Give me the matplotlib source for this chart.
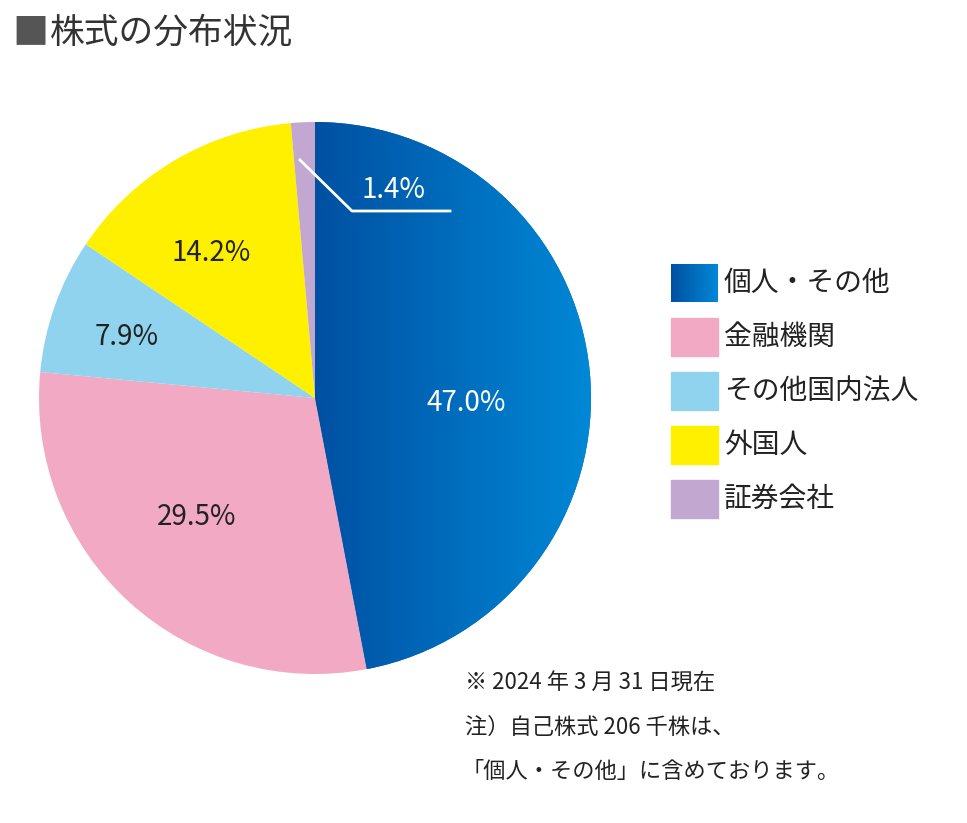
import matplotlib
matplotlib.use("Agg")
import matplotlib.pyplot as plt
import numpy as np
from matplotlib.colors import LinearSegmentedColormap

plt.rcParams["font.family"] = "Noto Sans CJK JP"

categories = ["個人・その他", "金融機関", "その他国内法人", "外国人", "証券会社"]
values = [47.0, 29.5, 7.9, 14.2, 1.4]
labels = ["47.0%", "29.5%", "7.9%", "14.2%", "1.4%"]
colors = ["#0066b8", "#f2a9c3", "#90d3ee", "#fff000", "#c2a7d1"]
title = "株式の分布状況"
notes = ["※ 2024 年 3 月 31 日現在", "注）自己株式 206 千株は、", "「個人・その他」に含めております。"]

W, H = 967, 823
fig = plt.figure(figsize=(W/100, H/100), dpi=100)
cx, cy, r = 315, 398, 276
ax = fig.add_axes([(cx-r)/W, (H-cy-r)/H, 2*r/W, 2*r/H])
wedges, _ = ax.pie(values, colors=colors, startangle=90, counterclock=False, radius=1,
                   wedgeprops=dict(linewidth=0))
ax.set_xlim(-1, 1); ax.set_ylim(-1, 1); ax.set_aspect("equal"); ax.axis("off")

# gradient on first wedge
cmap = LinearSegmentedColormap.from_list("b", ["#0050a2", "#0088d6"])
grad = np.linspace(0, 1, 256).reshape(1, -1)
im = ax.imshow(grad, cmap=cmap, extent=[0, 1, -1, 1], aspect="auto", zorder=3)
im.set_clip_path(wedges[0])
ax.set_xlim(-1, 1); ax.set_ylim(-1, 1)

# label positions in figure pixels
pos = [(466, 403), (197, 517), (127, 337), (211, 253), (393, 190)]
tcol = ["white", "#222222", "#222222", "#222222", "white"]
for lab, (x, y), c in zip(labels, pos, tcol):
    fig.text(x/W, 1-y/H, lab, color=c, fontsize=20, ha="center", va="center",
             fontfamily="Liberation Sans" if False else "Noto Sans CJK JP", zorder=5)
# leader line for 1.4%
lx = np.array([300, 352, 450]); ly = np.array([160, 211, 211])
fig.add_artist(plt.Line2D(lx/W, 1-ly/H, color="white", lw=2))

# title
fig.text(12/W, 1-33/H, "■", color="#555555", fontsize=26, va="center")
fig.text(50/W, 1-33/H, title, color="#333333", fontsize=25, va="center")

# legend
for i, (cat, col) in enumerate(zip(categories, colors)):
    y = 283 + i*54
    if i == 0:
        lax = fig.add_axes([671/W, 1-(y+19)/H, 47/W, 38/H])
        lax.imshow(grad, cmap=cmap, aspect="auto"); lax.axis("off")
    else:
        fig.add_artist(plt.Rectangle((671/W, 1-(y+19)/H), 47/W, 38/H, color=col,
                                     transform=fig.transFigure))
    fig.text(724/W, 1-y/H, cat, fontsize=20, color="#222222", va="center")

for i, n in enumerate(notes):
    fig.text(465/W if i < 2 else 462/W, 1-(683+44*i)/H, n, fontsize=16, color="#222222", va="center")

fig.savefig("out.png", dpi=100)
